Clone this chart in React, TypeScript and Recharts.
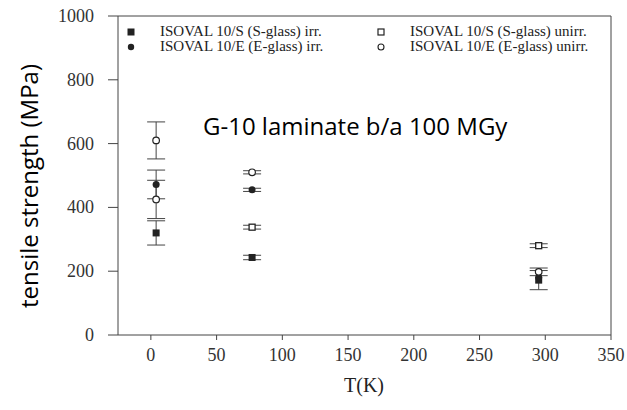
import {
  ScatterChart,
  Scatter,
  XAxis,
  YAxis,
  ErrorBar,
  ReferenceLine,
} from "recharts";

// T in K, tensile strength in MPa, err = half error bar
const sGlassIrr = [
  { T: 4, v: 320, err: 38 },
  { T: 77, v: 243, err: 7 },
  { T: 295, v: 172, err: 30 },
];
const eGlassIrr = [
  { T: 4, v: 472, err: 45 },
  { T: 77, v: 455, err: 5 },
  { T: 295, v: 180, err: 0 },
];
const sGlassUnirr = [
  { T: 77, v: 338, err: 6 },
  { T: 295, v: 280, err: 6 },
];
const eGlassUnirr = [
  { T: 4, v: 610, err: 58 },
  { T: 4, v: 425, err: 60 },
  { T: 77, v: 510, err: 5 },
  { T: 295, v: 198, err: 12 },
];

const xTicks = [0, 50, 100, 150, 200, 250, 300, 350];
const yTicks = [0, 200, 400, 600, 800, 1000];

const legendItems = [
  { label: "ISOVAL 10/S (S-glass) irr.", kind: "sqFill" },
  { label: "ISOVAL 10/S (S-glass) unirr.", kind: "sqOpen" },
  { label: "ISOVAL 10/E (E-glass) irr.", kind: "dotFill" },
  { label: "ISOVAL 10/E (E-glass) unirr.", kind: "dotOpen" },
];

const ink = "#222";
const serif = "'Liberation Serif', 'DejaVu Serif', serif";

const SqFill = (p: any) => (
  <rect x={p.cx - 3.5} y={p.cy - 3.5} width={7} height={7} fill={ink} />
);
const SqOpen = (p: any) => (
  <rect
    x={p.cx - 3}
    y={p.cy - 3}
    width={6}
    height={6}
    fill="#fff"
    stroke={ink}
    strokeWidth={1.3}
  />
);
const DotFill = (p: any) => <circle cx={p.cx} cy={p.cy} r={3.5} fill={ink} />;
const DotOpen = (p: any) => (
  <circle cx={p.cx} cy={p.cy} r={3.3} fill="#fff" stroke={ink} strokeWidth={1.2} />
);

const Marker = ({ kind }: { kind: string }) => (
  <svg width={10} height={10} style={{ verticalAlign: "middle" }}>
    {kind === "sqFill" && <rect x={1.5} y={1.5} width={7} height={7} fill={ink} />}
    {kind === "sqOpen" && (
      <rect x={2} y={2} width={6} height={6} fill="#fff" stroke={ink} strokeWidth={1.2} />
    )}
    {kind === "dotFill" && <circle cx={5} cy={5} r={3.2} fill={ink} />}
    {kind === "dotOpen" && (
      <circle cx={5} cy={5} r={3} fill="#fff" stroke={ink} strokeWidth={1.1} />
    )}
  </svg>
);

const XTick = (p: any) => (
  <text
    x={p.x}
    y={p.y + 17}
    textAnchor="middle"
    fontFamily={serif}
    fontSize={18}
    fill="#333"
  >
    {p.payload.value}
  </text>
);

const YTick = (p: any) => (
  <text
    x={p.x - 6}
    y={p.y + 6}
    textAnchor="end"
    fontFamily={serif}
    fontSize={18}
    fill="#333"
  >
    {p.payload.value}
  </text>
);

const YLabel = () => (
  <text
    x={28}
    y={186}
    transform="rotate(-90 28 186)"
    textAnchor="middle"
    dominantBaseline="central"
    fontFamily="Open Sans"
    fontSize={24}
    fill="#000"
  >
    tensile strength (MPa)
  </text>
);

const XLabel = () => (
  <text x={364} y={392} textAnchor="middle" fontFamily={serif} fontSize={20} fill={ink}>
    T(K)
  </text>
);

export default function App() {
  return (
    <div
      style={{
        position: "absolute",
        left: 0,
        top: 0,
        width: 627,
        height: 410,
        background: "#fff",
        fontFamily: serif,
      }}
    >
      <ScatterChart
        width={627}
        height={410}
        margin={{ top: 16, right: 16, bottom: 0, left: 0 }}
        style={{ fontFamily: serif }}
      >
        <XAxis
          type="number"
          dataKey="T"
          domain={[-25, 350]}
          ticks={xTicks}
          height={75}
          tickSize={5}
          tickMargin={4}
          stroke="#444"
          tick={<XTick />}
          label={<XLabel />}
        />
        <YAxis
          type="number"
          dataKey="v"
          domain={[0, 1000]}
          ticks={yTicks}
          width={118}
          tickSize={10}
          tickMargin={8}
          stroke="#444"
          tick={<YTick />}
          label={<YLabel />}
        />
        <ReferenceLine y={1000} stroke="#444" />
        <ReferenceLine x={350} stroke="#444" />
        <Scatter data={sGlassIrr} shape={SqFill} isAnimationActive={false}>
          <ErrorBar dataKey="err" direction="y" width={9} stroke="#444" strokeWidth={1} />
        </Scatter>
        <Scatter data={eGlassIrr} shape={DotFill} isAnimationActive={false}>
          <ErrorBar dataKey="err" direction="y" width={9} stroke="#444" strokeWidth={1} />
        </Scatter>
        <Scatter data={sGlassUnirr} shape={SqOpen} isAnimationActive={false}>
          <ErrorBar dataKey="err" direction="y" width={9} stroke="#444" strokeWidth={1} />
        </Scatter>
        <Scatter data={eGlassUnirr} shape={DotOpen} isAnimationActive={false}>
          <ErrorBar dataKey="err" direction="y" width={9} stroke="#444" strokeWidth={1} />
        </Scatter>
      </ScatterChart>

      <div
        style={{
          position: "absolute",
          left: 126,
          top: 24,
          width: 480,
          display: "grid",
          gridTemplateColumns: "250px 230px",
          fontSize: 15,
          lineHeight: "15px",
          color: ink,
        }}
      >
        {legendItems.map((it) => (
          <div key={it.label} style={{ display: "flex", alignItems: "center" }}>
            <Marker kind={it.kind} />
            <span style={{ marginLeft: 24 }}>{it.label}</span>
          </div>
        ))}
      </div>

      <div
        style={{
          position: "absolute",
          left: 203,
          top: 109,
          fontFamily: "Open Sans",
          fontSize: 24,
          color: "#000",
          whiteSpace: "nowrap",
        }}
      >
        G-10 laminate b/a 100 MGy
      </div>
    </div>
  );
}
